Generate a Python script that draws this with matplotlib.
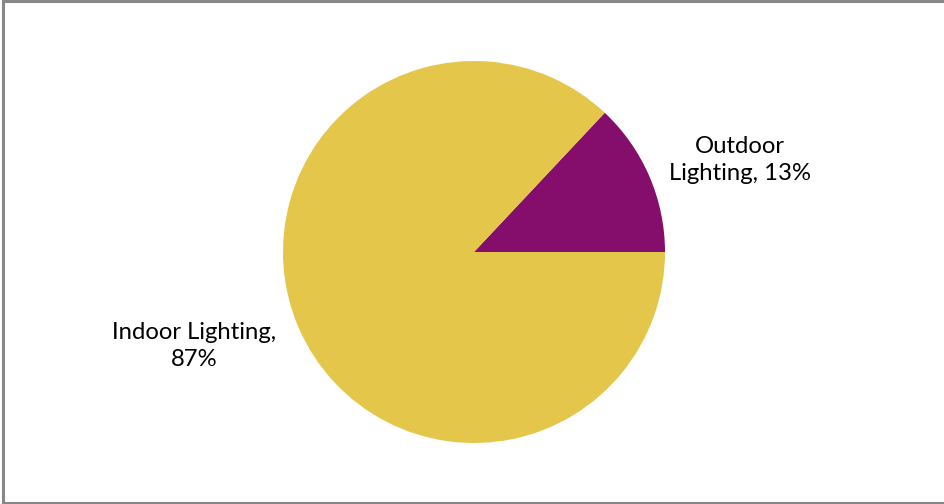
import matplotlib.pyplot as plt
from matplotlib.lines import Line2D

# lighting energy share
categories = ['Outdoor Lighting', 'Indoor Lighting']
shares = [13, 87]
labels = ['Outdoor\nLighting, 13%', 'Indoor Lighting,\n87%']
colors = ['#850D6C', '#E3C64A']

W, H = 944, 504
cx, cy, r = 474, 252, 191

fig = plt.figure(figsize=(W / 100, H / 100), dpi=100)
ax = fig.add_axes([(cx - r) / W, (H - cy - r) / H, 2 * r / W, 2 * r / H])

ax.pie(shares, colors=colors, startangle=0, counterclock=True,
       wedgeprops={'linewidth': 0})
ax.set_xlim(-1, 1)
ax.set_ylim(-1, 1)
ax.set_aspect('equal')
ax.axis('off')

# label positions in pixels, converted to pie units
label_px = [(740, 160), (194, 346)]
for lab, (px, py) in zip(labels, label_px):
    ax.text((px - cx) / r, (cy - py) / r, lab, ha='center', va='center',
            fontsize=17.2, family=['Lato', 'DejaVu Sans'], color='black',
            linespacing=1.35, clip_on=False)

# chart area border (top, left, bottom edges)
edge = dict(transform=None, color='#878787', linewidth=2.2)
for xs, ys in [((3, W), (H - 1, H - 1)),
               ((3, 3), (1, H)),
               ((3, W), (1.5, 1.5))]:
    fig.add_artist(Line2D(xs, ys, **edge))

fig.savefig('out.png', dpi=100)
